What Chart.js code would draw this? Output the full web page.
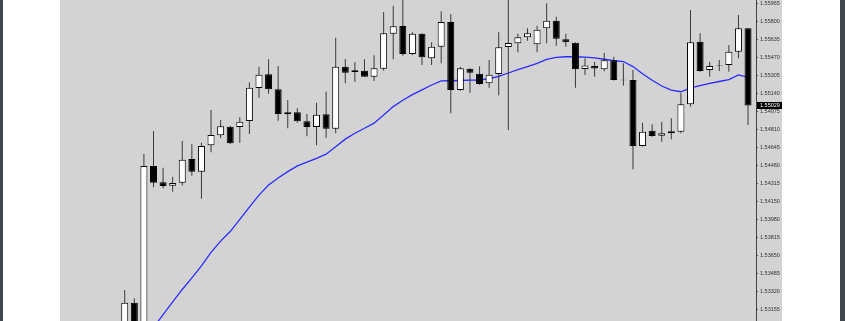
<!DOCTYPE html>
<html>
<head>
<meta charset="utf-8">
<script src="https://cdn.jsdelivr.net/npm/chart.js@4.4.0/dist/chart.umd.min.js"></script>
<style>
  html, body { margin: 0; padding: 0; background: #fff; width: 845px; height: 321px; overflow: hidden; }
  #edgeL { position: absolute; left: 0; top: 0; width: 3px; height: 321px; background: #40464a; }
  #edgeR { position: absolute; left: 840px; top: 0; width: 5px; height: 321px; background: #40464a; }
  #wrap { position: absolute; left: 60px; top: 0; width: 722px; height: 321px; background: #d3d3d3; }
</style>
</head>
<body>
<div id="edgeL"></div>
<div id="edgeR"></div>
<div id="wrap"><canvas id="priceChart" width="722" height="321"></canvas></div>
<script>
// candle data, oldest first (first few bars run off the bottom of the view)
var opens = [
  1.52924, 1.53220, 1.53007, 1.54473, 1.54324, 1.54293, 1.54320, 1.54537, 1.54421, 1.54663,
  1.54755, 1.54834, 1.54831, 1.54886, 1.55188, 1.55314, 1.55176, 1.54947, 1.54966, 1.54883,
  1.54831, 1.54947, 1.54815, 1.55384, 1.55335, 1.55347, 1.55292, 1.55365, 1.55686, 1.55757,
  1.55500, 1.55686, 1.55461, 1.55567, 1.55793, 1.55170, 1.55365, 1.55319, 1.55231, 1.55317,
  1.55564, 1.55598, 1.55653, 1.55589, 1.55736, 1.55805, 1.55635, 1.55604, 1.55363, 1.55390,
  1.55361, 1.55442, 1.55265, 1.55262, 1.54657, 1.54797, 1.54751, 1.54773, 1.54788, 1.55039,
  1.55613, 1.55353, 1.55397, 1.55399, 1.55521, 1.55736
];
var highs = [
  1.53337, 1.53261, 1.54583, 1.54794, 1.54458, 1.54375, 1.54702, 1.54672, 1.54687, 1.54987,
  1.54895, 1.54840, 1.54920, 1.55241, 1.55384, 1.55451, 1.55390, 1.55078, 1.55002, 1.54950,
  1.55054, 1.55154, 1.55649, 1.55454, 1.55424, 1.55451, 1.55488, 1.55885, 1.55943, 1.56010,
  1.55699, 1.55690, 1.55607, 1.55891, 1.55864, 1.55384, 1.55369, 1.55387, 1.55445, 1.55699,
  1.56005, 1.55686, 1.55736, 1.55759, 1.55965, 1.55842, 1.55686, 1.55605, 1.55461, 1.55429,
  1.55509, 1.55475, 1.55415, 1.55353, 1.54870, 1.54856, 1.54879, 1.54911, 1.55140, 1.55903,
  1.55690, 1.55429, 1.55445, 1.55583, 1.55858, 1.55738
];
var lows = [
  1.52878, 1.52970, 1.52988, 1.54278, 1.54269, 1.54238, 1.54296, 1.54384, 1.54174, 1.54599,
  1.54727, 1.54675, 1.54687, 1.54767, 1.55099, 1.55136, 1.54889, 1.54819, 1.54870, 1.54746,
  1.54663, 1.54733, 1.54773, 1.55231, 1.55246, 1.55289, 1.55253, 1.55347, 1.55451, 1.55484,
  1.55491, 1.55399, 1.55399, 1.55415, 1.54956, 1.55164, 1.55145, 1.55219, 1.55191, 1.55121,
  1.54803, 1.55516, 1.55622, 1.55516, 1.55598, 1.55576, 1.55567, 1.55191, 1.55308, 1.55292,
  1.55342, 1.55257, 1.55209, 1.54443, 1.54650, 1.54742, 1.54696, 1.54718, 1.54773, 1.55017,
  1.55338, 1.55292, 1.55344, 1.55338, 1.55461, 1.54849
];
var closes = [
  1.53220, 1.53007, 1.54473, 1.54320, 1.54290, 1.54317, 1.54531, 1.54421, 1.54657, 1.54758,
  1.54837, 1.54681, 1.54879, 1.55191, 1.55310, 1.55176, 1.54950, 1.54966, 1.54883, 1.54831,
  1.54944, 1.54815, 1.55384, 1.55329, 1.55351, 1.55292, 1.55369, 1.55690, 1.55754, 1.55500,
  1.55686, 1.55470, 1.55567, 1.55793, 1.55170, 1.55369, 1.55329, 1.55225, 1.55310, 1.55561,
  1.55601, 1.55653, 1.55690, 1.55723, 1.55805, 1.55640, 1.55607, 1.55360, 1.55395, 1.55367,
  1.55442, 1.55262, 1.55259, 1.54657, 1.54788, 1.54748, 1.54773, 1.54791, 1.55039, 1.55607,
  1.55344, 1.55390, 1.55392, 1.55521, 1.55736, 1.55029
];
// moving average (blue line)
var maValues = [
  1.52649, 1.52759, 1.52878, 1.52994, 1.53111, 1.53228, 1.53342, 1.53448, 1.53559, 1.53682,
  1.53785, 1.53873, 1.53984, 1.54097, 1.54207, 1.54300, 1.54364, 1.54422, 1.54475, 1.54509,
  1.54544, 1.54582, 1.54651, 1.54720, 1.54774, 1.54820, 1.54866, 1.54940, 1.55018, 1.55076,
  1.55128, 1.55172, 1.55216, 1.55253, 1.55255, 1.55257, 1.55260, 1.55262, 1.55274, 1.55295,
  1.55326, 1.55356, 1.55384, 1.55414, 1.55451, 1.55469, 1.55475, 1.55475, 1.55471, 1.55464,
  1.55452, 1.55440, 1.55431, 1.55385, 1.55319, 1.55260, 1.55207, 1.55170, 1.55154, 1.55190,
  1.55211, 1.55231, 1.55248, 1.55266, 1.55308, 1.55285
];
// price scale labels on the right
var yTicks = [
  1.55965, 1.55800, 1.55635, 1.55470, 1.55305, 1.55140, 1.54975, 1.54810, 1.54645,
  1.54480, 1.54315, 1.54150, 1.53980, 1.53815, 1.53650, 1.53485, 1.53320, 1.53155
];

var barIndex = opens.map(function (o, i) { return i; });

var bodies = opens.map(function (o, i) { return [o, closes[i]]; });
var wicks = lows.map(function (l, i) { return [l, highs[i]]; });
var bodyFill = opens.map(function (o, i) { return closes[i] >= o ? '#ffffff' : '#000000'; });

var lastPriceTag = {
  id: 'lastPriceTag',
  afterDraw: function (chart) {
    var yScale = chart.scales.y;
    var ctx = chart.ctx;
    var last = closes[closes.length - 1];
    var py = Math.round(yScale.getPixelForValue(last));
    ctx.save();
    ctx.fillStyle = '#000';
    ctx.fillRect(yScale.left + 1, py - 3, yScale.width - 1, 7);
    ctx.fillStyle = '#fff';
    ctx.font = '5.5px "Liberation Sans", Arial, sans-serif';
    ctx.textBaseline = 'middle';
    ctx.fillText(last.toFixed(5), yScale.left + 4, py + 0.5);
    ctx.restore();
  }
};

var ctx = document.getElementById('priceChart').getContext('2d');
var priceChart = new Chart(ctx, {
  type: 'bar',
  data: {
    labels: barIndex,
    datasets: [
      {
        type: 'line',
        label: 'MA',
        data: maValues,
        borderColor: '#2a2aff',
        borderWidth: 1.3,
        pointRadius: 0,
        tension: 0,
        order: 4
      },
      {
        label: 'wicks',
        data: wicks,
        backgroundColor: '#3a3a3a',
        borderWidth: 0,
        barThickness: 1,
        grouped: false,
        inflateAmount: 0,
        order: 3
      },
      {
        label: 'bodies',
        data: bodies,
        backgroundColor: bodyFill,
        borderColor: '#000',
        borderWidth: 1,
        borderSkipped: false,
        barThickness: 7,
        grouped: false,
        inflateAmount: 0,
        order: 1
      }
    ]
  },
  options: {
    responsive: false,
    animation: false,
    layout: { padding: 0 },
    plugins: { legend: { display: false }, tooltip: { enabled: false } },
    scales: {
      x: {
        type: 'linear',
        offset: false,
        min: -6.75,
        max: 65.83,
        display: false
      },
      y: {
        position: 'right',
        min: 1.53053,
        max: 1.55995,
        afterBuildTicks: function (scale) {
          scale.ticks = yTicks.map(function (v) { return { value: v }; });
        },
        afterFit: function (scale) {
          scale.width = 26;
          scale.paddingTop = 0;
          scale.paddingBottom = 0;
        },
        grid: { drawOnChartArea: false, drawTicks: true, tickLength: 2, color: '#555' },
        border: { display: true, color: '#444', width: 1 },
        ticks: {
          padding: 2,
          color: '#333',
          font: { family: '"Liberation Sans", Arial, sans-serif', size: 5.5 },
          callback: function (v) { return Number(v).toFixed(5); }
        }
      }
    }
  },
  plugins: [lastPriceTag]
});
</script>
</body>
</html>
